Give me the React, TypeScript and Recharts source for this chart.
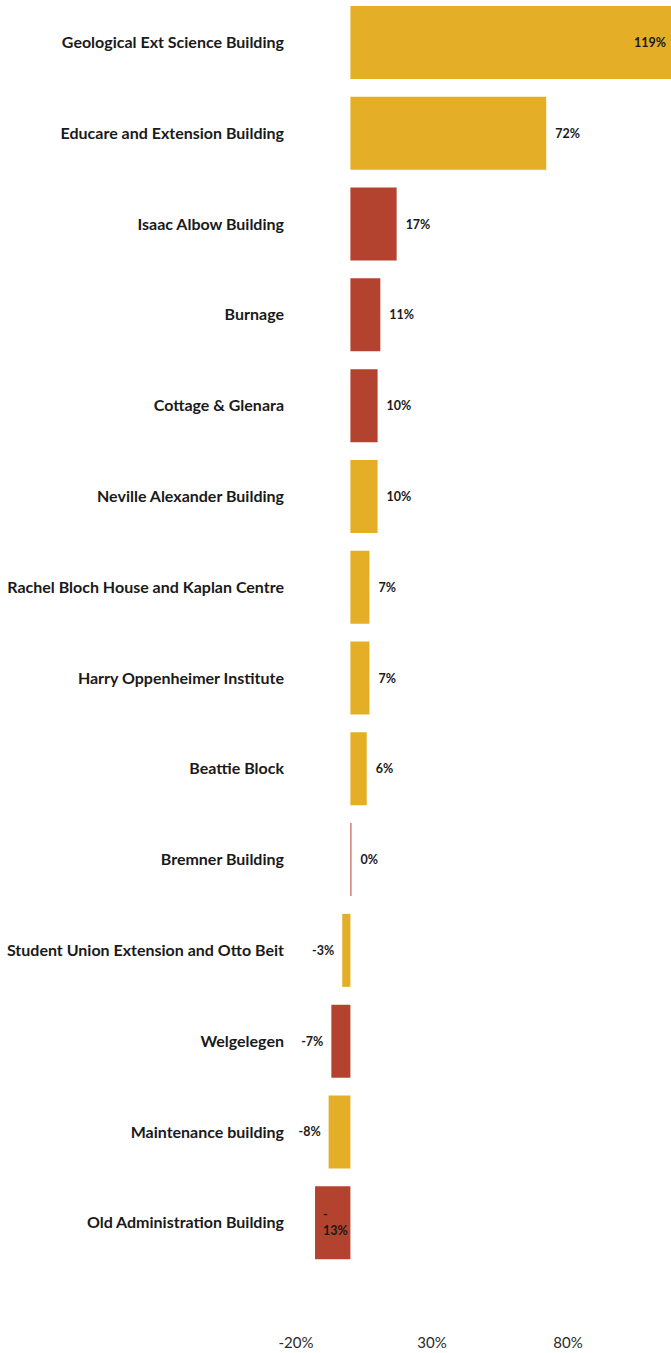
import { BarChart, Bar, XAxis, YAxis, Cell, LabelList } from 'recharts';

const buildings = [
  'Geological Ext Science Building',
  'Educare and Extension Building',
  'Isaac Albow Building',
  'Burnage',
  'Cottage & Glenara',
  'Neville Alexander Building',
  'Rachel Bloch House and Kaplan Centre',
  'Harry Oppenheimer Institute',
  'Beattie Block',
  'Bremner Building',
  'Student Union Extension and Otto Beit',
  'Welgelegen',
  'Maintenance building',
  'Old Administration Building',
];

const change = [119, 72, 17, 11, 10, 10, 7, 7, 6, 0, -3, -7, -8, -13];

// which bars are drawn in the red group
const group = ['gold', 'gold', 'red', 'red', 'red', 'gold', 'gold', 'gold', 'gold', 'red', 'gold', 'red', 'gold', 'red'];

const xTicks = [-20, 30, 80];

const colors: Record<string, string> = { gold: '#E4AF27', red: '#B3432E' };

const data = buildings.map((name, i) => ({ name, value: change[i], group: group[i] }));

const PLOT_LEFT = 296;

const ValueLabel = (props: any) => {
  const { x, y, width, height, value } = props;
  const text = `${value}%`;
  const cy = y + height / 2;
  const style = { fontFamily: 'Lato', fontWeight: 700, fontSize: 12.5, fill: '#1a1a1a' };
  const right = x + width;
  const left = Math.min(x, right);
  const end = Math.max(x, right);
  const estW = text.length * 7;
  if (value >= 0) {
    // too long to sit outside: put it inside the bar's end
    if (end + 9 + estW > 671) {
      return (
        <text x={end - 8} y={cy} textAnchor="end" dominantBaseline="central" style={style}>
          {text}
        </text>
      );
    }
    return (
      <text x={end + 9} y={cy} textAnchor="start" dominantBaseline="central" style={style}>
        {text}
      </text>
    );
  }
  if (left - 8 - estW < PLOT_LEFT) {
    // no room on the left: wrap inside the bar
    return (
      <text x={left + 8} y={cy} textAnchor="start" style={style}>
        <tspan x={left + 8} dy={-4}>-</tspan>
        <tspan x={left + 8} dy={16}>{`${Math.abs(value)}%`}</tspan>
      </text>
    );
  }
  return (
    <text x={left - 8} y={cy} textAnchor="end" dominantBaseline="central" style={style}>
      {text}
    </text>
  );
};

export default function App() {
  return (
    <div style={{ position: 'absolute', left: 0, top: 0, width: 671, height: 1353, overflow: 'hidden', background: '#fff' }}>
      <div style={{ position: 'absolute', left: 0, top: -3.4 }}>
        <BarChart
          width={704}
          height={1373}
          data={data}
          layout="vertical"
          margin={{ top: 0, right: 0, bottom: 0, left: 0 }}
        >
          <XAxis
            type="number"
            domain={[-20, 130]}
            ticks={xTicks}
            tickFormatter={(v) => `${v}%`}
            axisLine={false}
            tickLine={false}
            tickSize={0}
            tickMargin={69}
            height={102}
            interval={0}
            tick={{ fontFamily: 'Lato', fontSize: 15, fill: '#2a2a2a' }}
          />
          <YAxis
            type="category"
            dataKey="name"
            width={PLOT_LEFT}
            axisLine={false}
            tickLine={false}
            tickSize={0}
            tickMargin={12}
            interval={0}
            tick={{ fontFamily: 'Lato', fontSize: 16, fontWeight: 700, fill: '#1a1a1a' }}
          />
          <Bar dataKey="value" barSize={73} minPointSize={1} isAnimationActive={false}>
            {data.map((d) => (
              <Cell key={d.name} fill={colors[d.group]} />
            ))}
            <LabelList dataKey="value" content={<ValueLabel />} />
          </Bar>
        </BarChart>
      </div>
    </div>
  );
}
